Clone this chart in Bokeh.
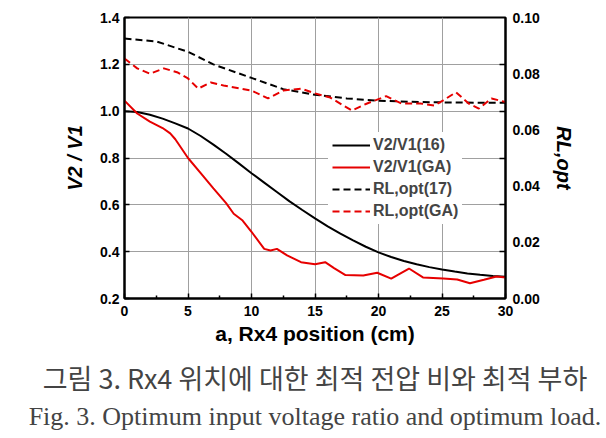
from bokeh.plotting import figure
from bokeh.models import (Range1d, LinearAxis, FixedTicker, Legend, LegendItem,
                          Title, PrintfTickFormatter)
from bokeh.embed import file_html
from bokeh.resources import INLINE

# ---- data ----
x_v16 = [0, 1, 2, 3, 4, 5, 6, 7, 8, 9, 10, 11, 12, 13, 14, 15, 16, 17, 18, 19,
         20, 21, 22, 23, 24, 25, 26, 27, 28, 29, 30]
v_v16 = [1.000, 0.996, 0.985, 0.968, 0.948, 0.926, 0.894, 0.857, 0.818, 0.777,
         0.735, 0.695, 0.655, 0.615, 0.578, 0.542, 0.508, 0.477, 0.448, 0.421,
         0.397, 0.377, 0.360, 0.346, 0.334, 0.324, 0.315, 0.307, 0.301, 0.296, 0.293]

x_vga = [0, 1, 2, 3, 3.6, 4, 5, 6, 7, 8, 8.6, 9.3, 10, 11, 11.5, 12, 12.8, 13.9,
         15, 15.8, 16.5, 17.4, 18.8, 19.9, 21, 22.4, 23.5, 25.1, 26.2, 27.2,
         28.3, 29.3, 30]
v_vga = [1.045, 0.99, 0.955, 0.928, 0.905, 0.88, 0.80, 0.735, 0.67, 0.607, 0.562,
         0.533, 0.485, 0.412, 0.405, 0.412, 0.384, 0.355, 0.346, 0.355, 0.33,
         0.30, 0.298, 0.31, 0.285, 0.328, 0.29, 0.285, 0.281, 0.265, 0.28,
         0.294, 0.29]

x_rl17 = [0, 2.5, 5, 7, 10, 12.5, 15, 17.5, 20, 22.5, 25, 27.5, 30]
r_rl17 = [0.0925, 0.0915, 0.0878, 0.0833, 0.0785, 0.0745, 0.0725, 0.0712,
          0.0704, 0.0700, 0.0698, 0.0697, 0.0697]

x_rlga = [0, 1, 2, 3.1, 4.2, 5, 5.8, 6.8, 7.8, 10, 11.3, 12.5, 13.9, 15, 16.2,
          17.9, 19.1, 20.6, 21.8, 23.3, 24.4, 25.1, 26.1, 27.1, 27.9, 28.9, 30]
r_rlga = [0.0854, 0.0819, 0.080, 0.0819, 0.0804, 0.0783, 0.0747, 0.0769, 0.0758,
          0.074, 0.0712, 0.074, 0.0747, 0.073, 0.0715, 0.0669, 0.0694, 0.0720,
          0.0694, 0.0694, 0.0687, 0.0705, 0.0734, 0.0694, 0.0676, 0.0712, 0.0699]

x_ticks = [0, 5, 10, 15, 20, 25, 30]
x_minor = [2.5, 7.5, 12.5, 17.5, 22.5, 27.5]
y_ticks = [0.2, 0.4, 0.6, 0.8, 1.0, 1.2, 1.4]
r_ticks = [0.00, 0.02, 0.04, 0.06, 0.08, 0.10]

series_names = ["V2/V1(16)", "V2/V1(GA)", "RL,opt(17)", "RL,opt(GA)"]
x_label = "a, Rx4 position (cm)"
y_label = "V2 / V1"
r_label = "RL,opt"
caption_kr = "그림 3. Rx4 위치에 대한 최적 전압 비와 최적 부하"
caption_en = "Fig. 3. Optimum input voltage ratio and optimum load."

RED = "#e60000"
FONT = "Liberation Sans"

p = figure(width=606, height=438, output_backend="svg", toolbar_location=None,
           x_range=Range1d(0, 30), y_range=Range1d(0.2, 1.4),
           min_border_left=124, min_border_right=101, min_border_top=17,
           min_border_bottom=140, x_axis_location=None, y_axis_location=None)
p.extra_y_ranges = {"rl": Range1d(0, 0.1)}
p.outline_line_color = "black"
p.outline_line_width = 2
p.background_fill_color = "white"
p.border_fill_color = "white"

def style_axis(ax):
    ax.axis_line_width = 2
    ax.axis_line_color = "black"
    ax.major_tick_line_width = 1.5
    ax.minor_tick_line_width = 1.5
    ax.major_tick_in = 5
    ax.major_tick_out = 0
    ax.minor_tick_in = 3
    ax.minor_tick_out = 0
    ax.major_label_text_font = FONT
    ax.major_label_text_font_style = "bold"
    ax.major_label_text_font_size = "14px"
    ax.major_label_text_color = "black"
    ax.axis_label_text_font = FONT
    ax.axis_label_text_color = "black"

xaxis = LinearAxis(ticker=FixedTicker(ticks=x_ticks, minor_ticks=x_minor),
                   axis_label=x_label)
style_axis(xaxis)
xaxis.axis_label_text_font_style = "bold"
xaxis.axis_label_text_font_size = "21px"
xaxis.major_label_standoff = 7
xaxis.axis_label_standoff = 3
p.add_layout(xaxis, "below")

yaxis = LinearAxis(ticker=FixedTicker(ticks=y_ticks, minor_ticks=[]),
                   axis_label=y_label,
                   formatter=PrintfTickFormatter(format="%.1f"))
style_axis(yaxis)
yaxis.major_label_standoff = 5
yaxis.axis_label_standoff = 11
yaxis.axis_label_text_font_style = "bold italic"
yaxis.axis_label_text_font_size = "20px"
p.add_layout(yaxis, "left")

r_minor = [(v - 0.2) / 12.0 for v in y_ticks[1:-1]]
raxis = LinearAxis(y_range_name="rl",
                   ticker=FixedTicker(ticks=r_ticks, minor_ticks=r_minor),
                   axis_label=r_label,
                   formatter=PrintfTickFormatter(format="%.2f"))
style_axis(raxis)
raxis.major_tick_in = 0
raxis.minor_tick_in = 6
raxis.major_label_standoff = 7
raxis.axis_label_standoff = 10
raxis.axis_label_text_font_style = "bold italic"
raxis.axis_label_text_font_size = "20px"
p.add_layout(raxis, "right")

p.xgrid.ticker = FixedTicker(ticks=x_ticks[1:-1])
p.ygrid.ticker = FixedTicker(ticks=y_ticks[1:-1])
for g in (p.xgrid, p.ygrid):
    g.grid_line_color = "#a0a0a0"
    g.grid_line_width = 1

r1 = p.line(x_v16, v_v16, line_color="black", line_width=2)
r2 = p.line(x_vga, v_vga, line_color=RED, line_width=2)
r3 = p.line(x_rl17, r_rl17, line_color="black", line_width=2, line_dash="7 4",
            y_range_name="rl")
r4 = p.line(x_rlga, r_rlga, line_color=RED, line_width=2, line_dash="7 4",
            y_range_name="rl")

legend = Legend(items=[LegendItem(label=n, renderers=[r])
                       for n, r in zip(series_names, [r1, r2, r3, r4])],
                location=(204, 74))
legend.label_text_font = FONT
legend.label_text_font_style = "bold"
legend.label_text_font_size = "16px"
legend.glyph_width = 38
legend.glyph_height = 18
legend.label_height = 18
legend.label_standoff = 3
legend.spacing = 4
legend.padding = 4
legend.margin = 0
legend.border_line_alpha = 0
legend.background_fill_color = "white"
legend.background_fill_alpha = 1
p.add_layout(legend)

t1 = Title(text=caption_kr, align="center", text_font="Noto Sans CJK KR",
           text_font_size="27px", text_font_style="normal", standoff=16)
t2 = Title(text=caption_en, align="center", text_font="Liberation Serif",
           text_font_size="26px", text_font_style="normal", standoff=-9)
p.add_layout(t1, "below")
p.add_layout(t2, "below")

open("out.html", "w").write(file_html(p, INLINE))
